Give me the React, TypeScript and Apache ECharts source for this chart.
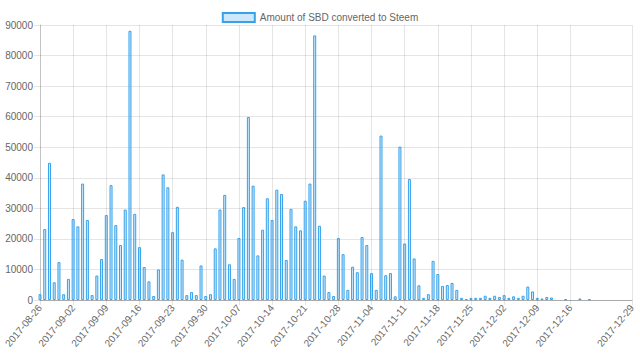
import React, { useEffect, useRef } from "react";
import * as echarts from "echarts";

const startDate = "2017-08-26";
const dayCount = 126;

// Amount of SBD converted to Steem, one value per day from 2017-08-26 (0 = nothing drawn)
const amounts: number[] = [
  1900, 23200, 44900, 5800, 12400, 1900, 6900, 26500, 24100, 38100,
  26200, 1600, 8000, 13400, 27800, 37600, 24500, 18000, 29600, 88100,
  28200, 17300, 10800, 6100, 1300, 10000, 41100, 36900, 22200, 30500,
  13200, 1600, 2600, 1600, 11300, 1300, 1900, 16900, 29600, 34400,
  11700, 6900, 20300, 30400, 59900, 37400, 14600, 23000, 33300, 26200,
  36100, 34700, 13100, 29800, 24100, 22800, 32500, 38100, 86600, 24300,
  8000, 2600, 1300, 20300, 15000, 3300, 10900, 9100, 20600, 18000,
  8800, 3300, 53800, 8100, 8800, 1200, 50200, 18500, 39600, 13600,
  4800, 700, 1900, 12800, 8500, 4600, 4900, 5600, 3300, 700,
  300, 700, 700, 700, 1400, 700, 1400, 1000, 1600, 700,
  1200, 700, 1400, 4400, 2800, 700, 500, 1000, 800, 0,
  0, 200, 0, 0, 500, 0, 300, 0, 0, 0,
  0, 0, 0, 0, 0, 0,
];

const yTicks = { min: 0, max: 90000, interval: 10000 };
const xTickStep = 7;
const lastWeeklyTick = 112; // 2017-12-16; the axis then jumps to its last day
const seriesName = "Amount of SBD converted to Steem";

function buildDates(): string[] {
  const base = Date.parse(startDate + "T00:00:00Z");
  const out: string[] = [];
  for (let i = 0; i < dayCount; i++) {
    out.push(new Date(base + i * 86400000).toISOString().slice(0, 10));
  }
  return out;
}

export default function App() {
  const ref = useRef<HTMLDivElement>(null);
  useEffect(() => {
    if (!ref.current) return;
    const chart = echarts.init(ref.current, undefined, { renderer: "svg" });
    const dates = buildDates();
    const showTick = (i: number) =>
      (i % xTickStep === 0 && i <= lastWeeklyTick) || i === dates.length - 1;
    const font = "'Liberation Sans', Arial, Helvetica, sans-serif";
    chart.setOption({
      animation: false,
      textStyle: { fontFamily: font },
      legend: {
        top: 7,
        left: "center",
        icon: "rect",
        itemWidth: 32,
        itemHeight: 9,
        textStyle: { fontSize: 10, color: "#666", fontFamily: font },
        data: [seriesName],
      },
      grid: { left: 40, right: 8, top: 25, bottom: 61, containLabel: false },
      xAxis: {
        type: "category",
        data: dates,
        boundaryGap: false,
        axisLine: { show: true, lineStyle: { color: "rgba(0,0,0,0.25)", width: 1 } },
        axisTick: { show: true, interval: (i: number) => showTick(i), length: 5, lineStyle: { color: "rgba(0,0,0,0.1)" } },
        splitLine: { show: true, interval: (i: number) => showTick(i), lineStyle: { color: "rgba(0,0,0,0.1)", width: 1 } },
        axisLabel: {
          interval: (i: number) => showTick(i),
          rotate: 50,
          fontSize: 10,
          color: "#666",
          margin: 6,
          fontFamily: font,
        },
      },
      yAxis: {
        type: "value",
        min: yTicks.min,
        max: yTicks.max,
        interval: yTicks.interval,
        axisLine: { show: true, lineStyle: { color: "rgba(0,0,0,0.15)" } },
        axisTick: { show: true, length: 6, lineStyle: { color: "rgba(0,0,0,0.1)" } },
        splitLine: { show: true, lineStyle: { color: "rgba(0,0,0,0.1)", width: 1 } },
        axisLabel: {
          fontSize: 10,
          color: "#666",
          margin: 7,
          fontFamily: font,
          formatter: (v: number) => String(v),
        },
      },
      series: [
        {
          name: seriesName,
          type: "bar",
          clip: false,
          data: amounts.map((v) => (v === 0 ? "-" : v)),
          barWidth: 3,
          itemStyle: {
            color: "rgba(54,162,235,0.25)",
            borderColor: "rgb(54,162,235)",
            borderWidth: 1,
          },
        },
      ],
    });
    return () => chart.dispose();
  }, []);
  return (
    <div
      ref={ref}
      style={{ position: "fixed", left: 0, top: 0, width: 640, height: 361, background: "#fff" }}
    />
  );
}
